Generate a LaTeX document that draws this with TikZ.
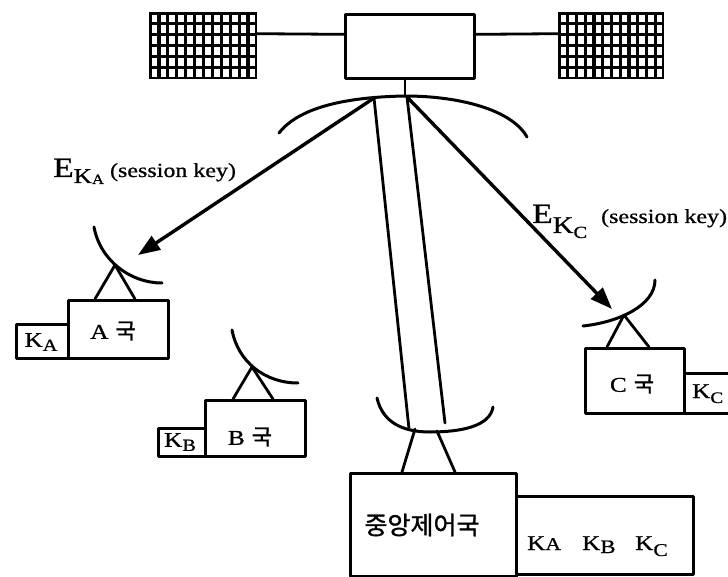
\documentclass[tikz,border=0pt]{standalone}
\usepackage{fontspec}
\setmainfont{Liberation Serif}
\newfontfamily\wide[FakeStretch=1.2,FakeBold=0.8]{Liberation Serif}
\newfontfamily\kr[FakeBold=1.2]{Noto Sans CJK KR}
\usetikzlibrary{arrows.meta}
\newcommand\fs[1]{\fontsize{#1}{#1}\selectfont}

\begin{document}
\begin{tikzpicture}[x=1pt,y=-1pt,line join=round,line cap=round,
  frame/.style={draw,line width=2.7pt,inner sep=0pt,anchor=north west},
  panel/.style={fill=black,inner sep=0pt,anchor=north west,minimum height=67pt},
  wire/.style={line width=2.8pt},
  dish/.style={line width=3pt},
  beam/.style={line width=3.4pt,-{Triangle[length=22pt,width=16pt]}},
  txt/.style={inner sep=0pt,font=\wide}]

\useasboundingbox (0,0) rectangle (728,577);

% satellite: body and two solar panels
\node[frame,minimum width=129pt,minimum height=64pt] (sat) at (344,13) {};
\node[panel,minimum width=108pt] (pl) at (149,12) {};
\node[panel,minimum width=106pt] (pr) at (558,12) {};
\foreach \i in {0,...,11}
  \foreach \j in {0,...,5}{
    \fill[white] ({149+\i*8.9+2.6},{12+\j*10.9+2.6}) rectangle ++(5.8,7.6);
    \fill[white] ({558+\i*8.75+2.6},{12+\j*10.9+2.6}) rectangle ++(5.6,7.6);
  }
\draw[wire] ([yshift=12pt]pl.east) -- ([yshift=12pt]sat.west);
\draw[wire] ([yshift=12pt]sat.east) -- ([yshift=12pt]pr.west);

% satellite antenna
\coordinate (tdL) at (279,133);
\coordinate (tdC) at (405,96);
\coordinate (tdR) at (527,137);
\draw[wire] (sat.south -| tdC) -- (tdC);
\draw[dish] (tdL) .. controls (300,106) and (350,97) .. (tdC)
                  .. controls (460,96) and (512,110) .. (tdR);
\coordinate (fL) at (374,98);
\coordinate (fR) at (407,97);

% ground stations
\node[frame,minimum width=100pt,minimum height=58pt] (stA) at (67,299) {};
\node[frame,minimum width=52pt,minimum height=34pt] (kA) at (15,323) {};
\node[frame,minimum width=100pt,minimum height=56pt] (stB) at (204,399) {};
\node[frame,minimum width=47pt,minimum height=28pt] (kB) at (157,427) {};
\node[frame,minimum width=99pt,minimum height=65pt] (stC) at (584,347) {};
\node[frame,minimum width=60pt,minimum height=40pt] (kC) at (683,372) {};
\node[frame,minimum width=166pt,minimum height=103pt] (hub) at (349,472) {};
\node[frame,minimum width=177pt,minimum height=78pt] (keys) at (515,495) {};

% station antennas
\coordinate (rxA) at (115,265);
\draw[dish] (94,227) .. controls (100,260) and (130,283) .. (162,283);
\draw[wire] (rxA) -- (stA.north west -| 95,0);
\draw[wire] (rxA) -- (stA.north west -| 135,0);

\coordinate (rxB) at (252,367);
\draw[dish] (232,330) .. controls (238,362) and (265,383) .. (298,383);
\draw[wire] (rxB) -- (stB.north west -| 233,0);
\draw[wire] (rxB) -- (stB.north west -| 273,0);

\coordinate (rxC) at (624,315);
\draw[dish] (583,326) .. controls (620,322) and (655,305) .. (655,280);
\draw[wire] (rxC) -- (stC.north west -| 607,0);
\draw[wire] (rxC) -- (stC.north west -| 649,0);

\coordinate (cdL) at (409,429);
\coordinate (cdR) at (445,423);
\draw[dish] (377,398) .. controls (383,424) and (405,432) .. (430,432)
                      .. controls (462,432) and (490,426) .. (493,407);
\draw[wire] (415,429) -- (hub.north west -| 402,0);
\draw[wire] (437,431) -- (hub.north west -| 455,0);

% links
\coordinate (tipA) at (138,255);
\coordinate (tipC) at (612,309);
\draw[beam] (fL) -- (tipA);
\draw[beam] (fR) -- (tipC);
\draw[wire] (fL) -- (cdL);
\draw[wire] (fR) -- (cdR);

% labels
\node[txt,anchor=base west] (eA) at (53,177)
  {\fs{28}E\raisebox{-6pt}{\fs{21}K\raisebox{-1pt}{\fs{14}A}}\hspace{6pt}\fs{20}(session key)};
\node[txt,anchor=base west] (eC) at (532,223)
  {\fs{28}E\raisebox{-10pt}{\fs{24}K\raisebox{-5pt}{\fs{17}C}}\hspace{14pt}\fs{20}(session key)};

\node[txt] (nA) at (113,331) {\fs{21}A\hspace{7pt}{\kr\fs{22}국}};
\node[txt] (nB) at (250,437) {\fs{21}B\hspace{7pt}{\kr\fs{22}국}};
\node[txt] (nC) at (632,384) {\fs{21}C\hspace{7pt}{\kr\fs{22}국}};
\node[txt] (tkA) at (41,342) {\fs{21}K\raisebox{-4pt}{\fs{17}A}};
\node[txt] (tkB) at (180,442) {\fs{21}K\raisebox{-4pt}{\fs{17}B}};
\node[txt,anchor=base west] (tkC) at (692,398) {\fs{21}K\raisebox{-5pt}{\fs{16}C}};

\node[txt] (hubname) at (422,525) {\kr\fs{25}중앙제어국};
\node[txt,anchor=base west] (k1) at (527,550) {\fs{21}K{\fs{18}A}};
\node[txt,anchor=base west] (k2) at (582,550) {\fs{21}K\raisebox{-3pt}{\fs{19}B}};
\node[txt,anchor=base west] (k3) at (635,550) {\fs{21}K\raisebox{-6pt}{\fs{18}C}};
\end{tikzpicture}
\end{document}
